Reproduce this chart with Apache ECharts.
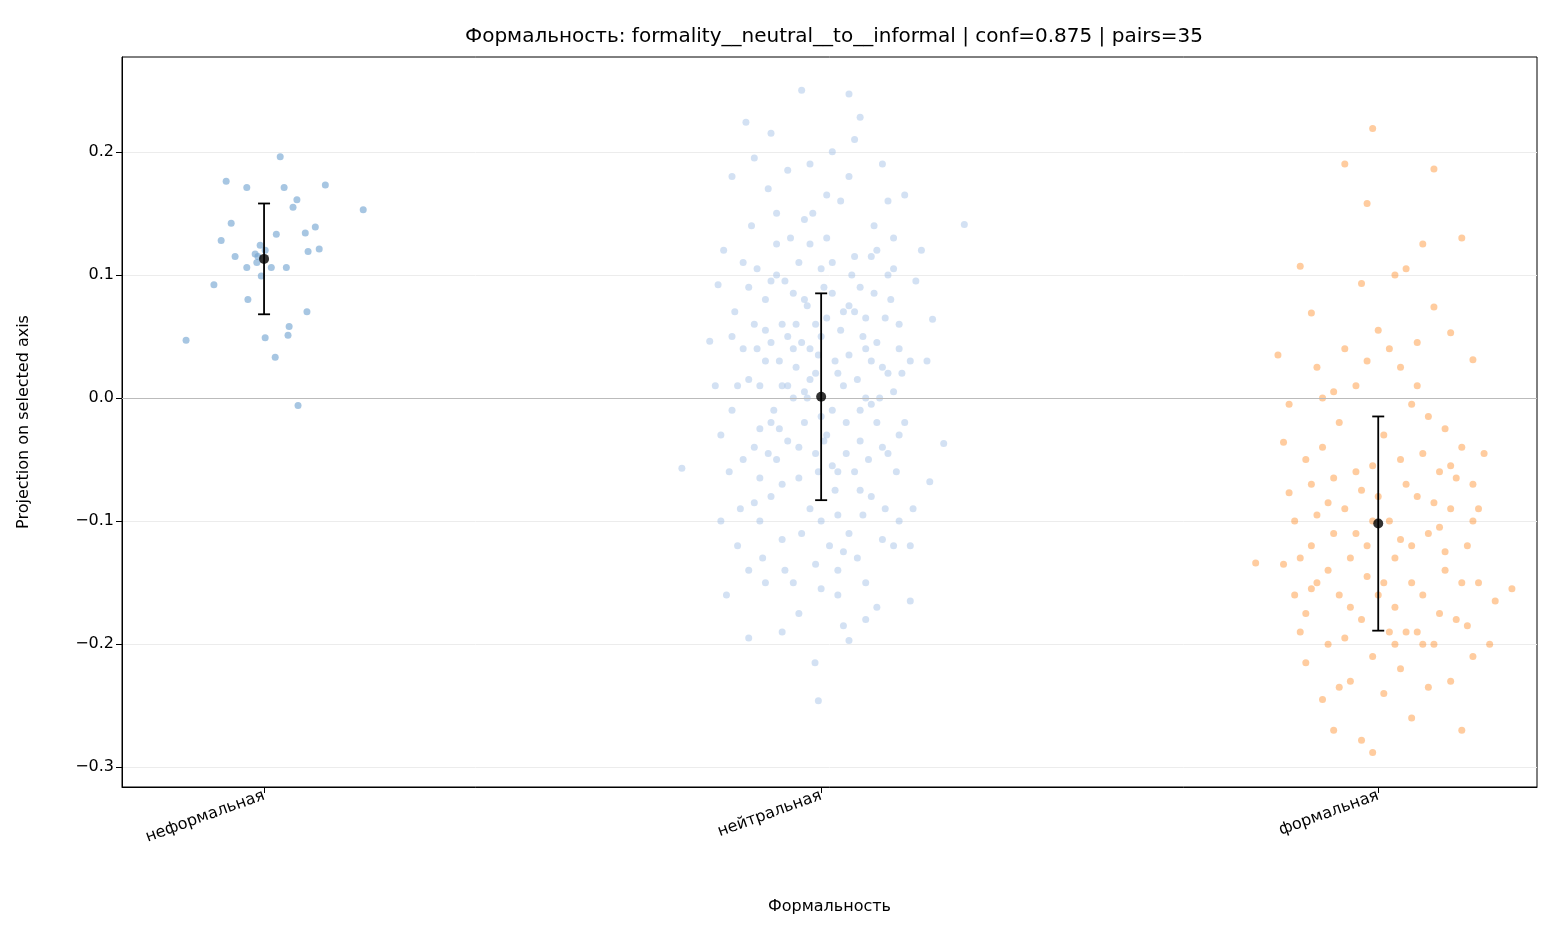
<!DOCTYPE html>
<html><head><meta charset="utf-8">
<script src="https://cdn.jsdelivr.net/npm/echarts@6/dist/echarts.min.js"></script>
<style>html,body{margin:0;background:#fff}#c{width:1560px;height:936px}</style>
</head><body><div id="c"></div>
<script>
var categories = ['неформальная', 'нейтральная', 'формальная'];
var means = [0.113, 0.001, -0.102];
var errs = [0.045, 0.084, 0.087];

// [jitter offset, projection]
var informalPts = [[-0.14,0.047],[-0.09,0.092],[-0.077,0.128],[-0.068,0.176],[-0.059,0.142],[-0.052,0.115],[-0.031,0.171],[-0.031,0.106],[-0.029,0.080],[-0.016,0.117],[-0.013,0.110],[-0.007,0.124],[-0.005,0.099],[0.002,0.120],[0.002,0.049],[0.013,0.106],[0.022,0.133],[0.020,0.033],[0.029,0.196],[0.036,0.171],[0.040,0.106],[0.045,0.058],[0.043,0.051],[0.052,0.155],[0.059,0.161],[0.061,-0.006],[0.074,0.134],[0.077,0.070],[0.079,0.119],[0.092,0.139],[0.099,0.121],[0.110,0.173],[0.178,0.153],[-0.011,0.115]];

var neutralPts = [[-0.25,-0.057],[0.257,0.141],[-0.035,0.250],[-0.005,-0.246],[-0.011,-0.215],[-0.135,0.224],[0.05,0.247],[0.07,0.228],[-0.09,0.215],[0.12,0.160],[-0.16,0.180],[0.15,0.165],
[-0.17,-0.160],[0.16,-0.165],[-0.13,-0.195],[0.05,-0.197],[0.1,-0.170],[-0.07,-0.190],[0.0,-0.155],[0.08,-0.180],[-0.1,-0.150],[0.03,-0.140],
[-0.2,0.046],[-0.18,-0.030],[-0.19,0.010],[0.19,0.030],[0.2,0.064],[0.22,-0.037],[0.195,-0.068],[0.17,0.095],[-0.175,0.120],[-0.185,0.092],
[-0.15,0.010],[-0.14,-0.050],[-0.12,0.060],[-0.11,-0.100],[-0.1,0.030],[-0.09,-0.020],[-0.08,0.100],[-0.07,-0.070],[-0.06,0.050],[-0.05,0.000],
[-0.04,-0.040],[-0.03,0.080],[-0.02,-0.090],[-0.01,0.020],[0.0,0.050],[0.01,-0.030],[0.02,0.110],[0.03,-0.060],[0.04,0.010],[0.05,-0.110],
[0.06,0.070],[0.07,-0.010],[0.08,0.040],[0.09,-0.080],[0.1,0.120],[0.11,-0.040],[0.12,0.020],[0.13,-0.120],[0.14,0.060],[0.15,-0.020],
[-0.155,0.070],[-0.145,-0.090],[-0.125,0.140],[-0.115,0.040],[-0.105,-0.130],[-0.095,0.170],[-0.085,-0.010],[-0.075,0.030],[-0.065,-0.140],[-0.055,0.130],
[-0.045,0.060],[-0.035,-0.110],[-0.025,0.000],[-0.015,0.150],[-0.005,-0.060],[0.005,0.090],[0.015,-0.120],[0.025,0.030],[0.035,0.160],[0.045,-0.020],
[0.055,0.100],[0.065,-0.130],[0.075,0.050],[0.085,-0.050],[0.095,0.140],[0.105,0.000],[0.115,-0.090],[0.125,0.080],[0.135,-0.060],[0.145,0.020],
[-0.16,-0.010],[-0.13,0.090],[-0.12,-0.040],[-0.1,0.080],[-0.08,-0.050],[-0.06,0.010],[-0.04,0.110],[-0.02,0.040],[0.0,-0.100],[0.02,-0.010],
[0.04,0.070],[0.06,-0.060],[0.08,0.000],[0.1,-0.020],[0.12,0.100],[0.14,-0.100],[0.16,0.030],[-0.11,0.010],[-0.03,-0.020],[0.03,0.020],
[-0.07,0.060],[0.07,0.090],[-0.09,-0.080],[0.09,0.030],[-0.01,0.060],[0.01,0.130],[-0.05,-0.150],[0.05,0.180],[-0.15,-0.120],[0.13,0.130],
[-0.02,0.190],[0.02,0.200],[-0.06,0.185],[0.06,0.210],[-0.12,0.195],[0.11,0.190],[-0.04,-0.175],[0.04,-0.185],[-0.08,0.150],[0.08,-0.150],
[-0.14,0.040],[0.14,0.040],[-0.165,-0.060],[0.165,-0.090],[-0.025,0.075],[0.025,-0.075],[-0.045,0.025],[0.045,-0.045],[-0.065,0.095],[0.065,0.015],
[-0.005,0.035],[0.005,-0.035],[-0.035,0.045],[0.035,0.055],[-0.075,-0.025],[0.075,-0.095],[-0.115,0.105],[0.115,0.065],[-0.095,-0.045],[0.095,0.085],
[-0.13,0.015],[-0.11,-0.065],[-0.09,0.045],[-0.07,-0.115],[-0.05,0.085],[-0.03,0.005],[-0.01,-0.045],[0.01,0.065],[0.03,-0.095],[0.05,0.035],
[0.07,-0.035],[0.09,0.115],[0.11,-0.115],[0.13,0.005],[-0.12,-0.085],[-0.08,0.125],[-0.04,-0.065],[0.0,0.105],[0.04,-0.125],[0.08,0.065],
[0.12,-0.045],[-0.1,0.055],[-0.06,-0.035],[-0.02,0.125],[0.02,-0.055],[0.06,0.115],[0.1,0.045],[-0.14,0.110],[0.14,-0.030],[-0.16,0.050],
[0.16,-0.120],[-0.18,-0.100],[0.18,0.120],[-0.01,-0.135],[0.01,0.165],[-0.03,0.145],[0.03,-0.160],[-0.05,0.040],[0.05,0.075],[-0.07,0.010],
[0.07,-0.075],[-0.09,0.095],[0.09,-0.005],[-0.11,-0.025],[0.11,0.025],[-0.13,-0.140],[0.13,0.105],[-0.02,0.015],[0.02,0.085],[0.0,-0.015]];

var formalPts = [[-0.22,-0.134],[-0.18,0.035],[-0.14,0.107],[-0.12,0.069],[-0.02,0.158],[-0.06,0.190],[-0.01,0.219],[0.05,0.105],[0.03,0.100],[0.08,0.125],[0.1,0.186],[0.15,0.130],
[0.17,0.031],[0.13,0.053],[0.1,0.074],[-0.11,0.025],[-0.08,0.005],[-0.03,0.093],[0.0,0.055],[0.04,0.025],[0.07,0.010],[-0.06,0.040],
[-0.17,-0.036],[-0.16,-0.077],[-0.15,-0.100],[-0.14,-0.130],[-0.13,-0.175],[-0.12,-0.070],[-0.11,-0.150],[-0.1,-0.040],[-0.09,-0.200],[-0.08,-0.110],
[-0.07,-0.160],[-0.06,-0.090],[-0.05,-0.130],[-0.04,-0.060],[-0.03,-0.180],[-0.02,-0.120],[-0.01,-0.210],[0.0,-0.080],[0.01,-0.150],[0.02,-0.100],
[0.03,-0.170],[0.04,-0.050],[0.05,-0.190],[0.06,-0.120],[0.07,-0.080],[0.08,-0.160],[0.09,-0.110],[0.1,-0.200],[0.11,-0.060],[0.12,-0.140],
[0.13,-0.090],[0.14,-0.180],[0.15,-0.040],[0.16,-0.120],[0.17,-0.070],[0.18,-0.150],[0.2,-0.200],[0.21,-0.165],[0.24,-0.155],
[-0.13,-0.215],[-0.1,-0.245],[-0.08,-0.270],[-0.05,-0.230],[-0.03,-0.278],[-0.01,-0.288],[0.01,-0.240],[0.04,-0.220],[0.06,-0.260],[0.09,-0.235],[0.13,-0.230],[0.17,-0.210],[0.15,-0.270],
[-0.16,-0.005],[-0.13,-0.050],[-0.11,-0.095],[-0.09,-0.140],[-0.07,-0.020],[-0.05,-0.170],[-0.03,-0.075],[-0.01,-0.100],[0.01,-0.030],[0.03,-0.130],
[0.05,-0.070],[0.07,-0.190],[0.09,-0.015],[0.11,-0.105],[0.13,-0.055],[0.15,-0.150],[0.17,-0.100],[0.19,-0.045],[-0.12,-0.120],[-0.04,-0.110],
[0.02,-0.190],[0.06,-0.150],[0.12,-0.025],[-0.08,-0.065],[-0.02,-0.145],[0.08,-0.200],[0.0,-0.160],[-0.06,-0.195],[0.1,-0.085],[-0.15,-0.160],
[-0.1,0.000],[-0.04,0.010],[0.02,0.040],[0.06,-0.005],[0.12,-0.125],[0.14,-0.065],[-0.14,-0.190],[-0.07,-0.235],[0.03,-0.200],[0.11,-0.175],
[-0.12,-0.155],[-0.09,-0.085],[-0.01,-0.055],[0.04,-0.115],[0.08,-0.045],[0.16,-0.185],[0.18,-0.090],[-0.17,-0.135],[-0.02,0.030],[0.07,0.045]];

function shift(pts, c) {
  return pts.map(function (p) { return [c + p[0], p[1]]; });
}
var colors = ['rgba(117,166,210,0.8)', 'rgba(164,192,230,0.6)', 'rgba(255,127,14,0.5)'];
var groups = [informalPts, neutralPts, formalPts];

var series = groups.map(function (pts, i) {
  return {
    type: 'scatter', data: shift(pts, i), symbolSize: 7, silent: true,
    itemStyle: { color: colors[i] }
  };
});
series[0].markLine = {
  silent: true, symbol: 'none', label: { show: false },
  lineStyle: { color: '#bbbbbb', type: 'solid', width: 1.2 },
  data: [{ yAxis: 0 }]
};
series.push({
  type: 'custom', silent: true, z: 5,
  data: means.map(function (m, i) { return [i, m - errs[i], m + errs[i]]; }),
  renderItem: function (params, api) {
    var lo = api.coord([api.value(0), api.value(1)]);
    var hi = api.coord([api.value(0), api.value(2)]);
    var st = { stroke: '#000', lineWidth: 1.8 };
    return { type: 'group', children: [
      { type: 'line', shape: { x1: lo[0], y1: lo[1], x2: hi[0], y2: hi[1] }, style: st },
      { type: 'line', shape: { x1: lo[0] - 6, y1: lo[1], x2: lo[0] + 6, y2: lo[1] }, style: st },
      { type: 'line', shape: { x1: hi[0] - 6, y1: hi[1], x2: hi[0] + 6, y2: hi[1] }, style: st }
    ]};
  }
});
series.push({
  type: 'scatter', silent: true, z: 6, symbolSize: 10,
  itemStyle: { color: '#000' },
  data: means.map(function (m, i) { return [i, m]; })
});

var font = 'DejaVu Sans';
var chart = echarts.init(document.getElementById('c'));
chart.setOption({
  animation: false,
  title: {
    text: 'Формальность: formality__neutral__to__informal | conf=0.875 | pairs=35',
    left: 829, top: 22, textAlign: 'center',
    textStyle: { fontSize: 20, fontWeight: 'normal', color: '#000', fontFamily: font }
  },
  grid: { left: 122, right: 23, top: 57, bottom: 149, show: true, borderColor: '#000', borderWidth: 1 },
  xAxis: {
    type: 'value', min: -0.255, max: 2.285,
    name: 'Формальность', nameLocation: 'middle', nameGap: 112,
    nameTextStyle: { fontSize: 16, color: '#000', fontFamily: font },
    axisLine: { onZero: false, lineStyle: { color: '#000' } },
    splitLine: { show: false },
    axisTick: { customValues: [0, 1, 2], length: 6, lineStyle: { color: '#000' } },
    axisLabel: {
      customValues: [0, 1, 2], rotate: 20, fontSize: 16, color: '#000', fontFamily: font,
      formatter: function (v) { return categories[Math.round(v)]; }
    }
  },
  yAxis: {
    type: 'value', min: -0.316, max: 0.277,
    name: 'Projection on selected axis', nameLocation: 'middle', nameGap: 90,
    nameTextStyle: { fontSize: 16, color: '#000', fontFamily: font },
    axisLine: { show: true, onZero: false, lineStyle: { color: '#000' } },
    axisTick: { show: true, customValues: [-0.3, -0.2, -0.1, 0, 0.1, 0.2], length: 6, lineStyle: { color: '#000' } },
    splitLine: { show: true, lineStyle: { color: '#ececec' } },
    axisLabel: {
      customValues: [-0.3, -0.2, -0.1, 0, 0.1, 0.2], fontSize: 16, color: '#000', fontFamily: font,
      formatter: function (v) { return v.toFixed(1).replace('-', '\u2212'); }
    }
  },
  series: series
});
</script>
</body></html>
